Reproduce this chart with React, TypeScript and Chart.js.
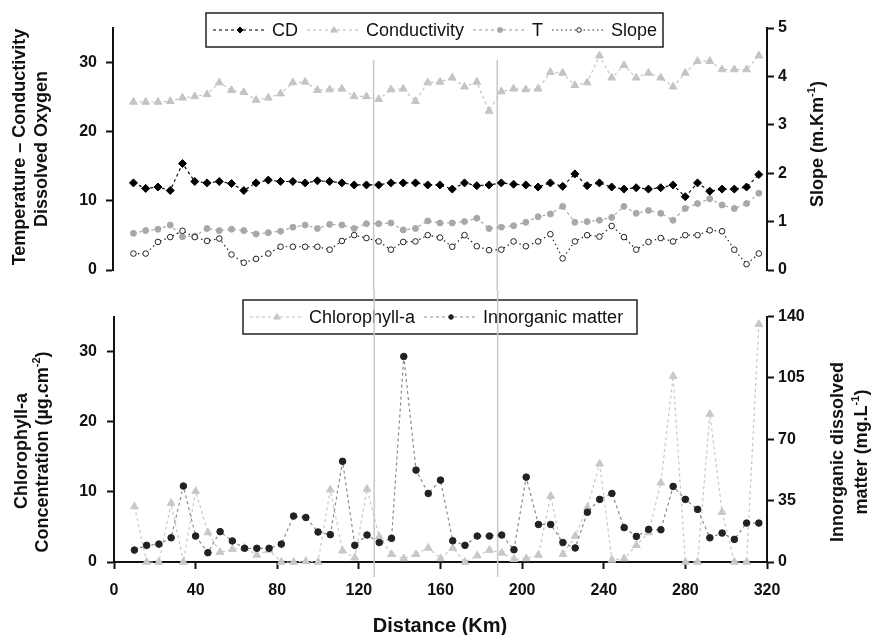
import React, { useEffect, useRef } from 'react';
import { Chart, registerables } from 'chart.js';

Chart.register(...registerables);

const FONT = '"Liberation Sans", Arial, Helvetica, sans-serif';

// ---------- data ----------
const distanceKm = [10, 16, 22, 28, 34, 40, 46, 52, 58, 64, 70, 76, 82, 88, 94, 100, 106, 112, 118, 124, 130, 136, 142, 148, 154, 160, 166, 172, 178, 184, 190, 196, 202, 208, 214, 220, 226, 232, 238, 244, 250, 256, 262, 268, 274, 280, 286, 292, 298, 304, 310, 316];

const dissolvedOxygen = [12.6, 11.8, 12.0, 11.5, 15.4, 12.8, 12.6, 12.8, 12.5, 11.5, 12.6, 13.0, 12.8, 12.8, 12.6, 12.9, 12.8, 12.6, 12.3, 12.3, 12.3, 12.6, 12.6, 12.6, 12.3, 12.3, 11.7, 12.6, 12.2, 12.3, 12.6, 12.4, 12.3, 12.0, 12.6, 12.1, 13.9, 12.2, 12.6, 12.0, 11.7, 11.9, 11.7, 11.9, 12.3, 10.6, 12.6, 11.4, 11.7, 11.7, 12.0, 13.8];

const conductivity = [24.3, 24.3, 24.3, 24.4, 24.9, 25.1, 25.4, 27.1, 26.0, 25.7, 24.6, 24.9, 25.5, 27.1, 27.2, 26.0, 26.1, 26.2, 25.1, 25.1, 24.7, 26.1, 26.2, 24.4, 27.1, 27.2, 27.8, 26.5, 27.2, 23.0, 25.8, 26.2, 26.1, 26.2, 28.6, 28.5, 26.7, 27.1, 31.0, 27.8, 29.6, 27.8, 28.5, 27.8, 26.5, 28.5, 30.2, 30.2, 29.0, 29.0, 29.0, 31.0];

const temperature = [5.3, 5.7, 5.9, 6.5, 4.8, 4.9, 6.0, 5.7, 5.9, 5.7, 5.2, 5.4, 5.6, 6.2, 6.5, 6.0, 6.6, 6.5, 6.0, 6.7, 6.7, 6.8, 5.8, 6.0, 7.1, 6.8, 6.8, 7.0, 7.5, 6.0, 6.2, 6.4, 6.9, 7.7, 8.1, 9.2, 6.9, 7.0, 7.2, 7.6, 9.2, 8.2, 8.6, 8.2, 7.2, 8.9, 9.6, 10.3, 9.4, 8.9, 9.6, 11.1];

const slope = [0.34, 0.34, 0.58, 0.68, 0.81, 0.68, 0.60, 0.65, 0.32, 0.15, 0.23, 0.34, 0.48, 0.48, 0.48, 0.48, 0.42, 0.60, 0.72, 0.66, 0.59, 0.42, 0.58, 0.59, 0.72, 0.67, 0.48, 0.72, 0.49, 0.41, 0.42, 0.59, 0.49, 0.59, 0.74, 0.24, 0.59, 0.72, 0.69, 0.91, 0.68, 0.42, 0.58, 0.66, 0.59, 0.72, 0.72, 0.82, 0.80, 0.42, 0.12, 0.34];

const chlorophyllA = [7.9, 0, 0, 8.4, 0, 10.1, 4.2, 1.4, 1.8, 2.0, 1.0, 1.7, 0, 0, 0.1, 0, 10.3, 1.6, 0.6, 10.4, 3.6, 1.1, 0.5, 1.1, 2.0, 0.5, 2.0, 0, 0.9, 1.7, 1.3, 0.4, 0.5, 1.0, 9.4, 1.1, 3.7, 7.8, 14.0, 0.3, 0.5, 2.4, 4.2, 11.3, 26.5, 0, 0, 21.1, 7.1, 0, 0, 33.9];

const inorganicMatter = [6.8, 9.5, 10.2, 13.8, 43.3, 14.8, 5.3, 17.3, 12.0, 7.8, 7.8, 7.8, 10.2, 26.2, 25.4, 17.1, 15.6, 57.4, 9.5, 15.4, 11.1, 13.5, 117.2, 52.4, 39.1, 46.7, 12.1, 9.5, 14.8, 14.8, 15.4, 7.0, 48.4, 21.4, 21.4, 11.1, 8.0, 28.4, 35.7, 39.1, 19.6, 14.6, 18.6, 18.4, 43.1, 35.7, 30.0, 13.8, 16.5, 12.9, 22.2, 22.2];

const distanceTicks = [0, 40, 80, 120, 160, 200, 240, 280, 320];
const topLeftTicks = [0, 10, 20, 30];
const slopeTicks = [0, 1, 2, 3, 4, 5];
const chlorophyllTicks = [0, 10, 20, 30];
const inorganicTicks = [0, 35, 70, 105, 140];
const referenceLinesKm = [127.5, 188];

// ---------- helpers ----------
const toPoints = (ys: number[]) => ys.map((y, i) => ({ x: distanceKm[i], y }));

type RichPart = { t: string; sup?: boolean };
type TitleSpec = { parts: RichPart[]; x: number; y: number; size: number; rotate: boolean };
type LegendItem = { label: string; lineColor: string; dash: number[]; style: string; fill: string; stroke: string; r: number };
type OverlayOpts = {
  legend: { x: number; y: number; w: number; h: number; items: LegendItem[] };
  titles: TitleSpec[];
  vlines: { values: number[]; top: number; bottom: number };
};

function drawMarker(ctx: CanvasRenderingContext2D, style: string, x: number, y: number, r: number, fill: string, stroke: string) {
  ctx.save();
  ctx.setLineDash([]);
  ctx.beginPath();
  if (style === 'rectRot') {
    ctx.moveTo(x, y - r); ctx.lineTo(x + r, y); ctx.lineTo(x, y + r); ctx.lineTo(x - r, y); ctx.closePath();
  } else if (style === 'triangle') {
    ctx.moveTo(x, y - r); ctx.lineTo(x + r * 0.95, y + r * 0.6); ctx.lineTo(x - r * 0.95, y + r * 0.6); ctx.closePath();
  } else {
    ctx.arc(x, y, r, 0, Math.PI * 2);
  }
  ctx.fillStyle = fill; ctx.fill();
  ctx.strokeStyle = stroke; ctx.lineWidth = 1; ctx.stroke();
  ctx.restore();
}

function drawRich(ctx: CanvasRenderingContext2D, spec: TitleSpec) {
  const fN = `bold ${spec.size}px ${FONT}`;
  const fS = `bold ${Math.round(spec.size * 0.6)}px ${FONT}`;
  ctx.save();
  ctx.translate(spec.x, spec.y);
  if (spec.rotate) ctx.rotate(-Math.PI / 2);
  const widths = spec.parts.map((p) => { ctx.font = p.sup ? fS : fN; return ctx.measureText(p.t).width; });
  const total = widths.reduce((a, b) => a + b, 0);
  let x = -total / 2;
  ctx.textBaseline = 'middle';
  ctx.textAlign = 'left';
  ctx.fillStyle = '#111';
  spec.parts.forEach((p, i) => {
    ctx.font = p.sup ? fS : fN;
    ctx.fillText(p.t, x, p.sup ? -spec.size * 0.32 : 0);
    x += widths[i];
  });
  ctx.restore();
}

const overlayPlugin = {
  id: 'overlay',
  beforeDatasetsDraw(chart: any, _args: any, opts: OverlayOpts) {
    const ctx: CanvasRenderingContext2D = chart.ctx;
    const lg = opts.legend;
    if (lg) {
      ctx.save();
      ctx.fillStyle = '#fff';
      ctx.fillRect(lg.x, lg.y, lg.w, lg.h);
      ctx.strokeStyle = '#222';
      ctx.lineWidth = 1.5;
      ctx.strokeRect(lg.x, lg.y, lg.w, lg.h);
      const cy = lg.y + lg.h / 2;
      let cx = lg.x + 7;
      ctx.font = `18px ${FONT}`;
      lg.items.forEach((it) => {
        ctx.save();
        ctx.strokeStyle = it.lineColor;
        ctx.lineWidth = 1.2;
        ctx.setLineDash(it.dash);
        ctx.beginPath(); ctx.moveTo(cx, cy); ctx.lineTo(cx + 54, cy); ctx.stroke();
        ctx.restore();
        drawMarker(ctx, it.style, cx + 27, cy, it.r, it.fill, it.stroke);
        cx += 59;
        ctx.fillStyle = '#111';
        ctx.textBaseline = 'middle';
        ctx.textAlign = 'left';
        ctx.font = `18px ${FONT}`;
        ctx.fillText(it.label, cx, cy + 1);
        cx += ctx.measureText(it.label).width + 9;
      });
      ctx.restore();
    }
    const vl = opts.vlines;
    if (vl) {
      ctx.save();
      ctx.strokeStyle = '#c8c8c8';
      ctx.lineWidth = 1.5;
      vl.values.forEach((v) => {
        const px = chart.scales.x.getPixelForValue(v);
        ctx.beginPath(); ctx.moveTo(px, vl.top); ctx.lineTo(px, vl.bottom); ctx.stroke();
      });
      ctx.restore();
    }
  },
  afterDraw(chart: any, _args: any, opts: OverlayOpts) {
    (opts.titles || []).forEach((t) => drawRich(chart.ctx, t));
  },
};

const yScale = (width: number, ticksArr: number[], max: number, position: string, padding: number) => ({
  type: 'linear',
  position,
  min: 0,
  max,
  afterBuildTicks: (s: any) => { s.ticks = ticksArr.map((v) => ({ value: v })); },
  afterFit: (s: any) => { s.width = width; s.paddingTop = 0; s.paddingBottom = 0; },
  grid: { drawOnChartArea: false, drawTicks: true, tickLength: 7, tickWidth: 2, tickColor: '#111' },
  border: { display: true, color: '#111', width: 2 },
  ticks: { color: '#111', padding, font: { family: FONT, size: 16, weight: 'bold' } },
});

const lineDs = (label: string, data: number[], axis: string, color: string, dash: number[], style: string, r: number, fill: string, stroke: string, order: number) => ({
  label,
  data: toPoints(data),
  yAxisID: axis,
  borderColor: color,
  borderWidth: 1.2,
  borderDash: dash,
  pointStyle: style,
  pointRadius: r,
  pointBackgroundColor: fill,
  pointBorderColor: stroke,
  pointBorderWidth: 1,
  fill: false,
  tension: 0,
  clip: false,
  order,
});

function topConfig(): any {
  return {
    type: 'line',
    data: {
      datasets: [
        lineDs('CD', dissolvedOxygen, 'y', '#111', [3, 3], 'rectRot', 4, '#000', '#000', 0),
        lineDs('Conductivity', conductivity, 'y', '#c4c4c4', [3, 3], 'triangle', 4.5, '#c4c4c4', '#c4c4c4', 2),
        lineDs('T', temperature, 'y', '#a8a8a8', [3, 3], 'circle', 3, '#a8a8a8', '#a8a8a8', 3),
        lineDs('Slope', slope, 'y1', '#222', [1.5, 3], 'circle', 2.8, '#fff', '#222', 1),
      ],
    },
    options: {
      responsive: false,
      animation: false,
      events: [],
      layout: { padding: { top: 28, bottom: 20, left: 0, right: 0 } },
      scales: {
        x: { type: 'linear', min: 0, max: 320, display: false },
        y: yScale(113, topLeftTicks, 35, 'left', 9),
        y1: yScale(108, slopeTicks, 5, 'right', 4),
      },
      plugins: {
        legend: { display: false },
        tooltip: { enabled: false },
        overlay: {
          legend: {
            x: 206, y: 13, w: 457, h: 34,
            items: [
              { label: 'CD', lineColor: '#222', dash: [3, 3], style: 'rectRot', fill: '#000', stroke: '#000', r: 3 },
              { label: 'Conductivity', lineColor: '#c4c4c4', dash: [3, 3], style: 'triangle', fill: '#c4c4c4', stroke: '#c4c4c4', r: 3.5 },
              { label: 'T', lineColor: '#a8a8a8', dash: [3, 3], style: 'circle', fill: '#a8a8a8', stroke: '#a8a8a8', r: 2.5 },
              { label: 'Slope', lineColor: '#222', dash: [1.5, 3], style: 'circle', fill: '#fff', stroke: '#222', r: 2.3 },
            ],
          },
          vlines: { values: referenceLinesKm, top: 60, bottom: 290 },
          titles: [
            { parts: [{ t: 'Temperature \u2013 Conductivity' }], x: 20, y: 147, size: 18, rotate: true },
            { parts: [{ t: 'Dissolved Oxygen' }], x: 42, y: 149, size: 18, rotate: true },
            { parts: [{ t: 'Slope (m.Km' }, { t: '-1', sup: true }, { t: ')' }], x: 818, y: 144, size: 18, rotate: true },
          ],
        },
      },
    },
    plugins: [overlayPlugin],
  };
}

function bottomConfig(): any {
  return {
    type: 'line',
    data: {
      datasets: [
        lineDs('Innorganic matter', inorganicMatter, 'y1', '#8a8a8a', [3, 3], 'circle', 3.3, '#222', '#222', 0),
        lineDs('Chlorophyll-a', chlorophyllA, 'y', '#c8c8c8', [3, 3], 'triangle', 4.5, '#c8c8c8', '#c8c8c8', 1),
      ],
    },
    options: {
      responsive: false,
      animation: false,
      events: [],
      layout: { padding: { top: 26.5, bottom: 0, left: 0, right: 0 } },
      scales: {
        x: {
          type: 'linear',
          min: 0,
          max: 320,
          afterBuildTicks: (s: any) => { s.ticks = distanceTicks.map((v) => ({ value: v })); },
          afterFit: (s: any) => { s.height = 73; s.paddingLeft = 0; s.paddingRight = 0; },
          grid: { drawOnChartArea: false, drawTicks: true, tickLength: 7, tickWidth: 2, tickColor: '#111' },
          border: { display: true, color: '#111', width: 2 },
          ticks: { color: '#111', padding: 12, maxRotation: 0, font: { family: FONT, size: 16, weight: 'bold' } },
        },
        y: yScale(114, chlorophyllTicks, 35, 'left', 10),
        y1: yScale(108, inorganicTicks, 140, 'right', 4),
      },
      plugins: {
        legend: { display: false },
        tooltip: { enabled: false },
        overlay: {
          legend: {
            x: 243, y: 10, w: 394, h: 34,
            items: [
              { label: 'Chlorophyll-a', lineColor: '#c8c8c8', dash: [3, 3], style: 'triangle', fill: '#c8c8c8', stroke: '#c8c8c8', r: 3.5 },
              { label: 'Innorganic matter', lineColor: '#a0a0a0', dash: [3, 3], style: 'circle', fill: '#222', stroke: '#222', r: 2.3 },
            ],
          },
          vlines: { values: referenceLinesKm, top: 0, bottom: 287 },
          titles: [
            { parts: [{ t: 'Chlorophyll-a' }], x: 22, y: 161, size: 18, rotate: true },
            { parts: [{ t: 'Concentration (\u00b5g.cm' }, { t: '-2', sup: true }, { t: ')' }], x: 43, y: 162, size: 18, rotate: true },
            { parts: [{ t: 'Innorganic dissolved' }], x: 838, y: 162, size: 18, rotate: true },
            { parts: [{ t: 'matter (mg.L' }, { t: '-1', sup: true }, { t: ')' }], x: 862, y: 162, size: 18, rotate: true },
            { parts: [{ t: 'Distance (Km)' }], x: 440, y: 336, size: 20, rotate: false },
          ],
        },
      },
    },
    plugins: [overlayPlugin],
  };
}

function ChartCanvas({ build, width, height, top }: { build: () => any; width: number; height: number; top: number }) {
  const ref = useRef<HTMLCanvasElement>(null);
  useEffect(() => {
    const chart = new Chart(ref.current as HTMLCanvasElement, build());
    return () => chart.destroy();
  }, [build]);
  return (
    <canvas
      ref={ref}
      width={width}
      height={height}
      style={{ position: 'absolute', left: 0, top, width, height, display: 'block' }}
    />
  );
}

export default function App() {
  return (
    <div style={{ position: 'absolute', left: 0, top: 0, width: 875, height: 635, background: '#fff', overflow: 'hidden' }}>
      <ChartCanvas build={topConfig} width={875} height={290} top={0} />
      <ChartCanvas build={bottomConfig} width={875} height={345} top={290} />
    </div>
  );
}
